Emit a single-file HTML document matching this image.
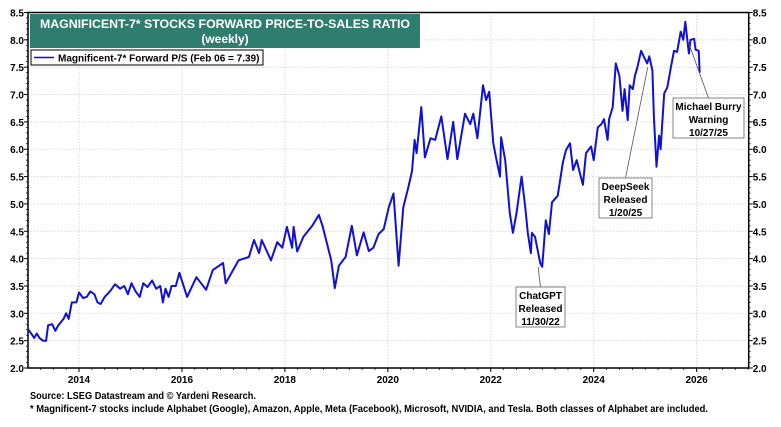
<!DOCTYPE html>
<html><head><meta charset="utf-8"><style>
body{margin:0;background:#fff;}
svg{display:block;font-family:"Liberation Sans",Arial,sans-serif;}
</style></head><body>
<svg id="chart" width="781" height="427" viewBox="0 0 781 427">
<g id="grid"></g>
<g id="axes"></g>
<path id="series" fill="none" stroke="#1010d8" stroke-width="2" stroke-linejoin="round"/>
<rect x="30" y="14" width="390" height="34" fill="#2e7d6e"/>
<text x="225" y="28" text-anchor="middle" fill="#fff" font-size="12" font-weight="bold" textLength="370" lengthAdjust="spacingAndGlyphs">MAGNIFICENT-7* STOCKS FORWARD PRICE-TO-SALES RATIO</text>
<text x="225" y="43" text-anchor="middle" fill="#fff" font-size="12" font-weight="bold">(weekly)</text>
<g>
<rect x="31" y="50" width="232" height="15" fill="#fff" stroke="#000" stroke-width="1"/>
<line x1="34" y1="57.5" x2="54" y2="57.5" stroke="#1010d8" stroke-width="1.6"/>
<text x="58" y="61.5" font-size="10" font-weight="bold">Magnificent-7* Forward P/S (Feb 06 = 7.39)</text>
</g>
<g id="notes"></g>
<text x="30" y="399" font-size="10" font-weight="bold" textLength="226" lengthAdjust="spacingAndGlyphs">Source: LSEG Datastream and © Yardeni Research.</text>
<text x="30" y="412" font-size="10" font-weight="bold" textLength="678" lengthAdjust="spacingAndGlyphs">* Magnificent-7 stocks include Alphabet (Google), Amazon, Apple, Meta (Facebook), Microsoft, NVIDIA, and Tesla. Both classes of Alphabet are included.</text>
</svg>
<script>
const dates=[2013.0,2013.08,2013.13,2013.18,2013.23,2013.3,2013.36,2013.4,2013.48,2013.54,2013.6,2013.7,2013.75,2013.8,2013.86,2013.95,2014.0,2014.08,2014.15,2014.22,2014.3,2014.36,2014.42,2014.5,2014.6,2014.7,2014.8,2014.88,2014.95,2015.02,2015.1,2015.18,2015.25,2015.33,2015.42,2015.5,2015.58,2015.63,2015.68,2015.74,2015.8,2015.88,2015.95,
2016.1,2016.28,2016.47,2016.6,2016.8,2016.85,2017.1,2017.3,2017.4,2017.5,2017.55,2017.73,2017.85,2017.95,2018.04,2018.14,2018.17,2018.24,2018.36,2018.53,2018.66,2018.73,2018.8,2018.9,2018.97,2019.05,2019.18,2019.3,2019.4,2019.53,2019.63,2019.72,2019.82,2019.92,2020.02,2020.11,2020.21,2020.3,2020.4,2020.47,2020.52,2020.56,2020.65,2020.72,2020.83,2020.92,2021.04,2021.16,2021.27,2021.35,2021.5,2021.6,2021.66,2021.74,2021.85,2021.91,2021.97,
2022.05,2022.1,2022.18,2022.2,2022.28,2022.37,2022.43,2022.5,2022.57,2022.6,2022.67,2022.72,2022.78,2022.8,2022.86,2022.96,2023.0,2023.07,2023.13,2023.19,2023.3,2023.4,2023.46,2023.54,2023.6,2023.67,2023.73,2023.79,2023.85,2023.95,2024.0,2024.08,2024.15,2024.2,2024.27,2024.3,2024.37,2024.43,2024.5,2024.56,2024.6,2024.66,2024.7,2024.76,2024.8,2024.85,2024.92,2024.98,2025.04,2025.08,2025.14,2025.17,2025.22,2025.27,2025.3,2025.37,2025.43,2025.5,2025.56,2025.62,2025.69,2025.74,2025.78,2025.85,2025.88,2025.95,2025.98,2026.04,2026.06];
const values=[2.72,2.62,2.55,2.63,2.55,2.5,2.5,2.78,2.8,2.68,2.78,2.9,3.0,2.9,3.2,3.2,3.38,3.28,3.3,3.4,3.35,3.2,3.17,3.3,3.4,3.53,3.45,3.5,3.35,3.55,3.4,3.3,3.55,3.48,3.6,3.45,3.5,3.2,3.45,3.3,3.5,3.5,3.74,
3.3,3.66,3.43,3.79,3.92,3.55,3.97,4.03,4.34,4.1,4.34,3.97,4.3,4.2,4.58,4.2,4.58,4.13,4.4,4.6,4.8,4.6,4.34,3.97,3.46,3.87,4.03,4.6,4.06,4.48,4.14,4.2,4.45,4.54,4.94,5.19,3.87,4.94,5.31,5.6,6.17,5.93,6.77,5.85,6.2,6.17,6.6,5.82,6.5,5.82,6.65,6.46,6.65,6.2,7.17,6.9,7.05,
6.11,5.86,5.5,6.22,5.8,4.83,4.47,4.83,5.31,5.5,4.95,4.47,4.1,4.47,4.4,3.92,3.85,4.7,4.45,5.03,5.15,5.75,5.98,6.11,5.62,5.8,5.57,5.35,5.93,6.05,5.8,6.4,6.46,6.55,6.17,6.55,6.77,7.57,7.34,6.7,7.1,6.53,7.17,7.1,7.34,7.5,7.8,7.68,7.57,7.7,7.44,6.59,5.68,6.25,6.0,7.02,7.13,7.5,7.8,7.78,8.15,8.0,8.33,7.75,8.0,8.02,7.82,7.8,7.4];
const yTicks=["2.0","2.5","3.0","3.5","4.0","4.5","5.0","5.5","6.0","6.5","7.0","7.5","8.0","8.5"];
const xTicks=[2014,2016,2018,2020,2022,2024,2026];

const X0=28,X1=748.7,YB=368,YT=12.5;
const xs=y=>79+(y-2014)*51.47;
const ys=v=>YB-(v-2)/(6.5)*(YB-YT);
const NS="http://www.w3.org/2000/svg";
function mk(tag,attrs,parent,txt){const e=document.createElementNS(NS,tag);for(const k in attrs)e.setAttribute(k,attrs[k]);if(txt!==undefined)e.textContent=txt;parent.appendChild(e);return e;}
const grid=document.getElementById('grid'),axes=document.getElementById('axes');
yTicks.forEach(t=>{const v=parseFloat(t),y=ys(v);
 if(v>2&&v<8.5){const g=mk('line',{x1:X0,x2:X1,y1:y,y2:y,stroke:'#d8d8d8','stroke-dasharray':'1.5 1.5'},grid);
 
 }
 const l=mk('text',{x:X0-4,y:y+4,'text-anchor':'end','font-size':10,'font-weight':'bold'},axes,t);
 
 
 const r=mk('text',{x:X1+4,y:y+4,'font-size':10,'font-weight':'bold'},axes,t);
 
 
 mk('line',{x1:X0-4,x2:X0,y1:y,y2:y,stroke:'#000'},axes);
 mk('line',{x1:X1,x2:X1+4,y1:y,y2:y,stroke:'#000'},axes);
 if(v<8.5){for(let k=1;k<5;k++){const yy=ys(v+k*0.1);mk('line',{x1:X0-2,x2:X0,y1:yy,y2:yy,stroke:'#000','stroke-width':0.7},axes);mk('line',{x1:X1,x2:X1+2,y1:yy,y2:yy,stroke:'#000','stroke-width':0.7},axes);}}
});
xTicks.forEach(yr=>{const x=xs(yr);
 const g=mk('line',{x1:x,x2:x,y1:YT,y2:YB,stroke:'#d8d8d8','stroke-dasharray':'1.5 1.5'},grid);
 
 
 mk('line',{x1:x,x2:x,y1:YB,y2:YB+4,stroke:'#000'},axes);
 const l=mk('text',{x:x,y:YB+15,'text-anchor':'middle','font-size':10,'font-weight':'bold'},axes,String(yr));
 
 
});
for(let q=2013;q<=2027;q+=0.25){const x=xs(q);if(x>X0&&x<X1)mk('line',{x1:x,x2:x,y1:YB,y2:YB+2,stroke:'#000','stroke-width':0.7},axes);}
mk('rect',{x:X0,y:YT,width:X1-X0,height:YB-YT,fill:'none',stroke:'#000','stroke-width':1.5},axes);
document.getElementById('series').setAttribute('d',dates.map((d,i)=>(i?'L':'M')+xs(d).toFixed(1)+' '+ys(values[i]).toFixed(1)).join(' '));
const notes=document.getElementById('notes');
function note(name,px,py,bx,by,bw,lines){
 mk('line',{x1:xs(px),y1:ys(py),x2:bx+bw/2,y2:by,stroke:'#555','stroke-width':0.8},notes);
 const r=mk('rect',{x:bx,y:by,width:bw,height:40,fill:'#fff',stroke:'#666','stroke-width':0.8},notes);
 
 
 lines.forEach((t,i)=>mk('text',{x:bx+bw/2,y:by+12+i*13,'text-anchor':'middle','font-size':10,'font-weight':'bold'},notes,t));
}
note('chatgpt-annotation',2022.92,3.85,516,287,49,['ChatGPT','Released','11/30/22']);
note('deepseek-annotation',2025.05,7.5,599,178,53,['DeepSeek','Released','1/20/25']);
note('michael-burry-annotation',2025.83,7.98,673,98,71,['Michael Burry','Warning','10/27/25']);
</script>
</body></html>
